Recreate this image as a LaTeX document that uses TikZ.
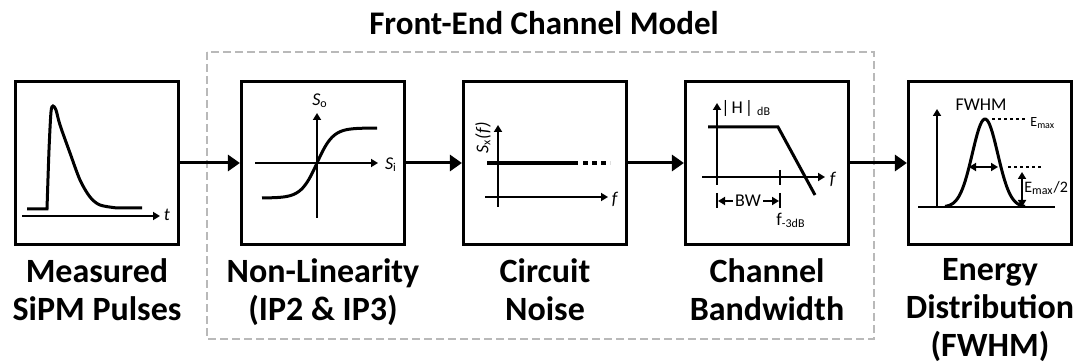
\documentclass[tikz,border=0pt]{standalone}
\usepackage{fontspec}
\setmainfont{Carlito}
\usetikzlibrary{arrows.meta}

\begin{document}
\begin{tikzpicture}[x=0.5pt, y=-0.5pt,
    block/.style={draw, line width=1.6pt, minimum width=81.5pt, minimum height=81.5pt, inner sep=0pt},
    caption/.style={anchor=north, align=center, inner sep=0pt, font=\fontsize{17}{19}\selectfont\bfseries},
    flow/.style={-{Triangle[width=8pt,length=6pt]}, line width=1.5pt},
    axis/.style={-{Triangle[width=4pt,length=3.5pt]}, line width=1pt},
    dbl/.style={{Triangle[width=4pt,length=3.5pt]}-{Triangle[width=4pt,length=3.5pt]}, line width=1pt},
    curve/.style={line width=1.5pt},
    dots/.style={line width=1pt, dash pattern=on 1.5pt off 1.5pt},
    lbl/.style={inner sep=0pt, font=\fontsize{9}{11}\selectfont}]
    \useasboundingbox (0,0) rectangle (1080,363);

    % Front-end frame
    \node[font=\fontsize{16.5}{19}\selectfont\bfseries, anchor=base] (title) at (544,35) {Front-End Channel Model};
    \draw[gray!55, line width=1pt, dash pattern=on 4pt off 2pt] (207,52) rectangle (874,339);

    % Blocks
    \node[block] (pulses) at (97,163) {};
    \node[block] (nonlin) at (323,163) {};
    \node[block] (noise) at (545,163) {};
    \node[block] (bandw) at (767,163) {};
    \node[block] (energy) at (990,163) {};

    \node[caption] (cappulses) at (97,258) {Measured\\SiPM Pulses};
    \node[caption] (capnonlin) at (323,258) {Non-Linearity\\(IP2 \& IP3)};
    \node[caption] (capnoise) at (545,258) {Circuit\\Noise};
    \node[caption] (capbandw) at (767,258) {Channel\\Bandwidth};
    \node[caption] (capenergy) at (990,258) {Energy\\Distribution\\(FWHM)};

    \draw[flow] (pulses) -- (nonlin);
    \draw[flow] (nonlin) -- (noise);
    \draw[flow] (noise) -- (bandw);
    \draw[flow] (bandw) -- (energy);

    % Measured pulse
    \draw[axis] (22,216) -- (160,216);
    \node[lbl] (tlab) at (167,215) {\textit{t}};
    \draw[curve] (27,209) -- (47,209) -- plot[smooth, tension=0.5] coordinates {(47,209) (49,150) (51,112) (53,106) (56,110) (60,125) (70,153) (80,180) (90,197) (100,205) (117,208)} -- (142,208);

    % Non-linearity
    \draw[axis] (317,218) -- (317,113);
    \draw[axis] (255,163) -- (378,163);
    \node[lbl] (solab) at (320,101) {\textit{S}\textsubscript{o}};
    \node[lbl] (silab) at (391,165) {\textit{S}\textsubscript{i}};
    \draw[curve] plot[domain=262:377, samples=60] (\x, {163-35*tanh((\x-317)/16)});

    % Circuit noise
    \draw[axis] (498,207) -- (498,125);
    \draw[axis] (485,197) -- (608,197);
    \node[lbl] (flab1) at (615,199) {\textit{f}};
    \node[lbl, rotate=90] (sxlab) at (483,138) {\textit{S}\textsubscript{x}\textit{(f)}};
    \draw[line width=2pt] (487,163) -- (578,163);
    \draw[line width=2pt, dash pattern=on 2.5pt off 2pt] (583,163) -- (610,163);

    % Channel bandwidth
    \draw[axis] (717,185) -- (717,103);
    \draw[axis] (702,177) -- (825,177);
    \node[lbl] (flab2) at (833,179) {\textit{f}};
    \node[lbl, anchor=west] (hlab) at (721,108) {|\kern1pt H\kern1pt|\kern2pt\textsubscript{dB}};
    \draw[curve] (708,127) -- (778,127) -- (815,195);
    \draw[line width=1pt] (780,170) -- (780,185);
    \draw[line width=1pt] (717,193) -- (717,208);
    \draw[line width=1pt] (780,193) -- (780,208);
    \coordinate (bwleft) at (718,201);
    \coordinate (bwright) at (779,201);
    \node[lbl, inner sep=1pt] (bwlab) at (748,201) {BW};
    \draw[axis] (bwlab) -- (bwleft);
    \draw[axis] (bwlab) -- (bwright);
    \node[lbl] (f3lab) at (791,220) {f\textsubscript{-3dB}};

    % Energy distribution
    \draw[axis] (937,208) -- (937,109);
    \draw[line width=1pt] (918,207) -- (1055,207);
    \draw[curve] plot[domain=945:1025, samples=60] (\x, {207-88*exp(-((\x-985)/12.7)^2/2)});
    \node[lbl] (fwhmlab) at (981,105) {FWHM};
    \draw[dbl] (969,167) -- (998,167);
    \draw[dots] (992,119) -- (1027,119);
    \draw[dots] (1008,167) -- (1043,167);
    \draw[dbl] (1022,207) -- (1022,172);
    \node[lbl, anchor=west, font=\fontsize{7}{8}\selectfont] (emaxlab) at (1030,123) {E\textsubscript{max}};
    \node[lbl, anchor=west, font=\fontsize{8}{9}\selectfont] (ehalflab) at (1024,188) {E\textsubscript{max}/2};
\end{tikzpicture}
\end{document}
